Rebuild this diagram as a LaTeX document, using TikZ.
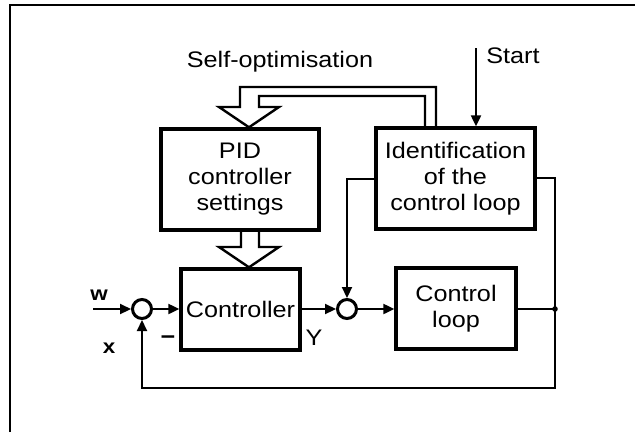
\documentclass[tikz,border=0pt]{standalone}
\usepackage{fontspec}
\setmainfont{Liberation Sans}
\usetikzlibrary{arrows.meta}
\newcommand{\hs}[1]{\scalebox{1.12}[1]{#1}}
\tikzset{
  box/.style={draw, line width=3.4pt, inner sep=0pt, align=center, font=\fontsize{22.5}{26}\selectfont},
  sumc/.style={draw, circle, line width=3pt, minimum size=19pt, inner sep=0pt},
  conn/.style={line width=2.2pt},
  arr/.style={conn, -{Triangle[length=11pt,width=10pt]}},
  hollow/.style={line width=2.4pt, line join=miter},
  lbl/.style={inner sep=0pt, font=\fontsize{22.5}{26}\selectfont},
  blbl/.style={inner sep=0pt, font=\fontsize{20}{24}\selectfont\bfseries},
}
\begin{document}
\begin{tikzpicture}[x=1pt,y=-1pt]
\useasboundingbox (0,0) rectangle (635,432);
% frame
\draw[line width=2.5pt] (10,432) -- (10,5) -- (635,5);
% texts
\node[lbl] (selfopt) at (280,62) {\hs{Self-optimisation}};
\node[lbl] (start) at (513,56) {\hs{Start}};
% boxes
\node[box, minimum width=158pt, minimum height=101pt] (pid) at (240,179.5) {\hs{PID}\\\hs{controller}\\\hs{settings}};
\node[box, minimum width=159pt, minimum height=101pt] (id) at (455.5,178.5) {\hs{Identification}\\\hs{of the}\\\hs{control loop}};
\node[box, minimum width=119pt, minimum height=81pt] (ctrl) at (240.5,309.5) {\hs{Controller}};
\node[box, minimum width=120pt, minimum height=81pt] (cl) at (456,308.5) {\hs{Control}\\\hs{loop}};
% summing points
\node[sumc] (s1) at (142,309) {};
\node[sumc] (s2) at (347,309) {};
% labels
\node[blbl] (w) at (99,295) {\hs{w}};
\node[blbl] (x) at (109,348) {\hs{x}};
\node[lbl] (minus) at (168,340) {\hs{\textbf{−}}};
\node[lbl] (y) at (314,338) {\hs{Y}};
% coordinates
\coordinate (win) at (93,309);
\coordinate (tap) at (555,309);
\coordinate (idr) at (555,178);
\coordinate (idl) at (347,179);
\coordinate (fbl) at (142,388);
\coordinate (st) at (476,48);
% connectors
\draw[arr] (win) -- (s1);
\draw[arr] (s1) -- (s1 -| ctrl.west);
\draw[arr] (ctrl.east |- s2) -- (s2);
\draw[arr] (s2) -- (s2 -| cl.west);
\draw[conn] (cl.east |- tap) -- (tap);
\fill (tap) circle (2.8pt);
\draw[conn] (id.east |- idr) -- (idr) -- (tap);
\draw[arr] (tap) |- (fbl) -- (s1);
\draw[arr] (id.west |- idl) -- (idl) -- (s2);
\draw[arr] (st) -- (st |- id.north);
% hollow arrows
\coordinate (a1) at (436,87);
\coordinate (a2) at (425,96);
\draw[hollow] (id.north -| a1) -- (a1) -- (240,87) -- (240,107) -- (219,107) -- (pid.north -| 249,0) -- (279,107) -- (259,107) -- (259,96) -- (a2) -- (id.north -| a2);
\draw[hollow] (pid.south -| 241,0) -- (241,247) -- (219,247) -- (ctrl.north -| 249,0) -- (279,247) -- (259,247) -- (pid.south -| 259,0);
\end{tikzpicture}
\end{document}
